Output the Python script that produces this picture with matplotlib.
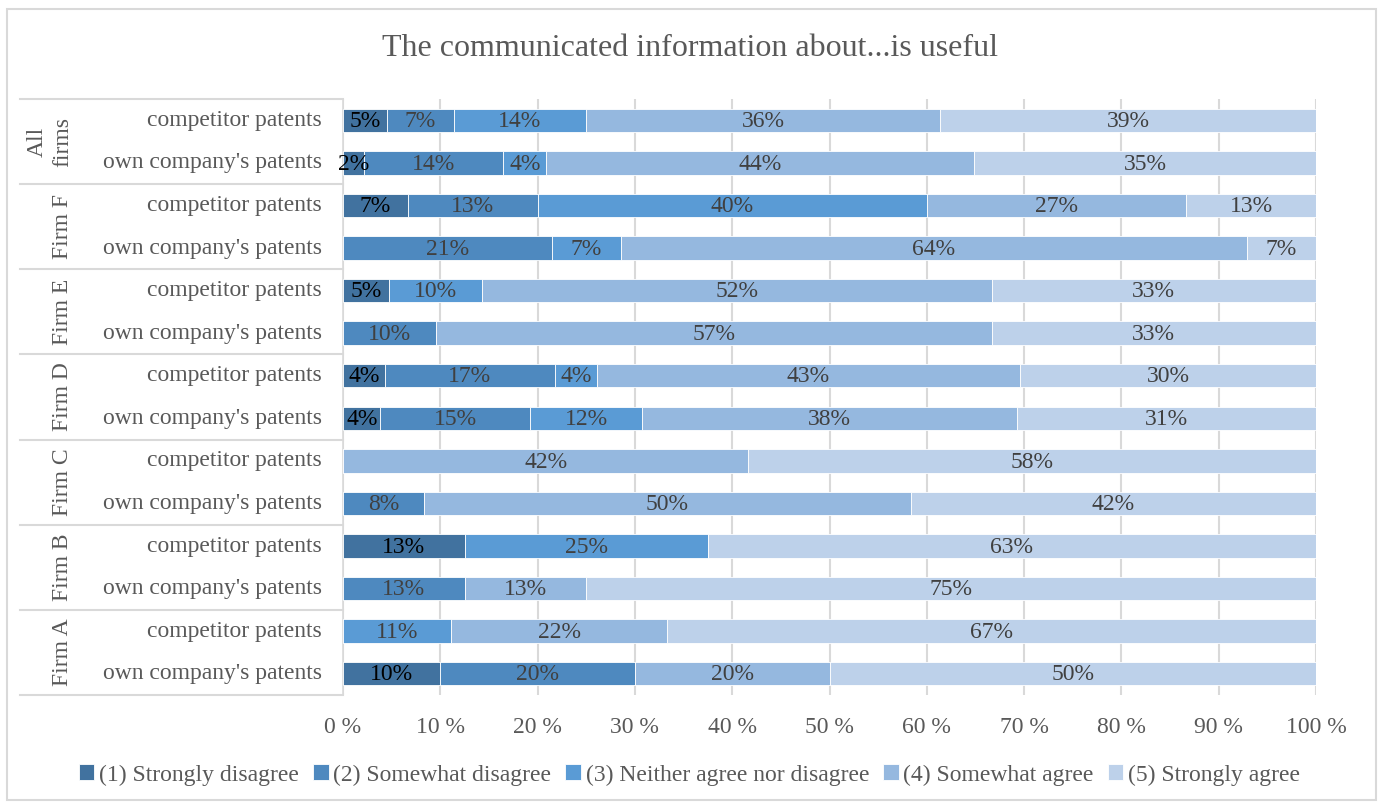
import numpy as np
import matplotlib.pyplot as plt
from matplotlib.patches import Rectangle
from matplotlib.transforms import blended_transform_factory

plt.rcParams['font.family'] = ['Liberation Serif', 'DejaVu Serif']

# rows from top to bottom
firms = ['All firms', 'Firm F', 'Firm E', 'Firm D', 'Firm C', 'Firm B', 'Firm A']
items = ['competitor patents', "own company's patents"]

categories = ['(1) Strongly disagree', '(2) Somewhat disagree',
              '(3) Neither agree nor disagree', '(4) Somewhat agree',
              '(5) Strongly agree']

# shares in percent, one list per answer, rows ordered like firms x items
strongly_disagree = [4.55, 2.20, 6.67, 0, 4.76, 0, 4.35, 3.85, 0, 0, 12.5, 0, 0, 10.0]
somewhat_disagree = [6.82, 14.29, 13.33, 21.43, 0, 9.52, 17.39, 15.38, 0, 8.33, 0, 12.5, 0, 20.0]
neither = [13.64, 4.40, 40.00, 7.14, 9.52, 0, 4.35, 11.54, 0, 0, 25.0, 0, 11.11, 0]
somewhat_agree = [36.36, 43.96, 26.67, 64.29, 52.38, 57.14, 43.48, 38.46, 41.67, 50.0, 0, 12.5, 22.22, 20.0]
strongly_agree = [38.64, 35.16, 13.33, 7.14, 33.33, 33.33, 30.43, 30.77, 58.33, 41.67, 62.5, 75.0, 66.67, 50.0]

series = [strongly_disagree, somewhat_disagree, neither, somewhat_agree, strongly_agree]
colors = ['#41729f', '#4e89bf', '#5a9bd5', '#95b8df', '#bdd1ea']
label_colors = ['#000000', '#404040', '#404040', '#404040', '#404040']

FS = 17
W, H = 1379, 805
fig = plt.figure(figsize=(W / 100, H / 100), dpi=100)
left, right, top, bottom = 343, 1316, 99, 695
ax = fig.add_axes([left / W, 1 - bottom / H, (right - left) / W, (bottom - top) / H])

n = len(strongly_disagree)
y = np.arange(n)
start = np.zeros(n)
for vals, col, tcol, name in zip(series, colors, label_colors, categories):
    vals = np.array(vals)
    ax.barh(y, vals, left=start, height=0.55, color=col, edgecolor='white',
            linewidth=0.6, label=name, zorder=3)
    for yi, (s, v) in enumerate(zip(start, vals)):
        if v > 0:
            ax.text(s + v / 2, yi + 0.03, f'{int(v + 0.5)}%', ha='center', va='center',
                    fontsize=FS, color=tcol, zorder=4)
    start += vals

ax.set_xlim(0, 100)
ax.set_ylim(n - 0.5, -0.5)
ax.set_xticks(np.arange(0, 101, 10))
ax.set_xticklabels([f'{t} %' for t in range(0, 101, 10)], fontsize=FS, color='#595959')
ax.set_yticks([])
ax.tick_params(axis='x', length=0, pad=16)
ax.grid(axis='x', color='#d9d9d9', linewidth=1.5, zorder=0)
for side in ['top', 'right', 'bottom']:
    ax.spines[side].set_visible(False)
ax.spines['left'].set_color('#d9d9d9')
ax.spines['left'].set_linewidth(1.2)

# two-level category axis on the left
tr = blended_transform_factory(ax.transAxes, ax.transData)
px = lambda xpix: (xpix - left) / (right - left)
for i in range(n):
    ax.text(px(322), i, items[i % 2], transform=tr, ha='right', va='center',
            fontsize=FS, color='#595959')
for g, firm in enumerate(firms):
    words = firm.split()
    if firm.startswith('Firm'):
        ax.text(px(62), 2 * g + 0.5, firm, transform=tr, ha='center', va='center',
                rotation=90, fontsize=FS, color='#595959')
    else:
        # long group name wraps onto two rotated lines
        for word, xp in zip(words, [37, 63]):
            ax.text(px(xp), 2 * g + 0.5, word, transform=tr, ha='center',
                    va='center', rotation=90, fontsize=FS, color='#595959')
for b in np.arange(-0.5, n, 2):
    ax.plot([px(20), 0], [b, b], transform=tr, color='#d9d9d9', linewidth=1.5,
            clip_on=False)

fig.text(0.5, 1 - 48 / H, 'The communicated information about...is useful',
         ha='center', va='center', fontsize=23, color='#595959')

fig.legend(loc='center', bbox_to_anchor=(0.5, 1 - 775 / H), ncol=5, frameon=False,
           fontsize=FS, handlelength=0.65, handleheight=0.65, handletextpad=0.2,
           columnspacing=0.6, labelcolor='#595959')

fig.patches.append(Rectangle((7 / W, 1 - 800 / H), 1369 / W, 791 / H,
                             transform=fig.transFigure, fill=False,
                             edgecolor='#d9d9d9', linewidth=1.5))

fig.savefig('out.png', dpi=100)
